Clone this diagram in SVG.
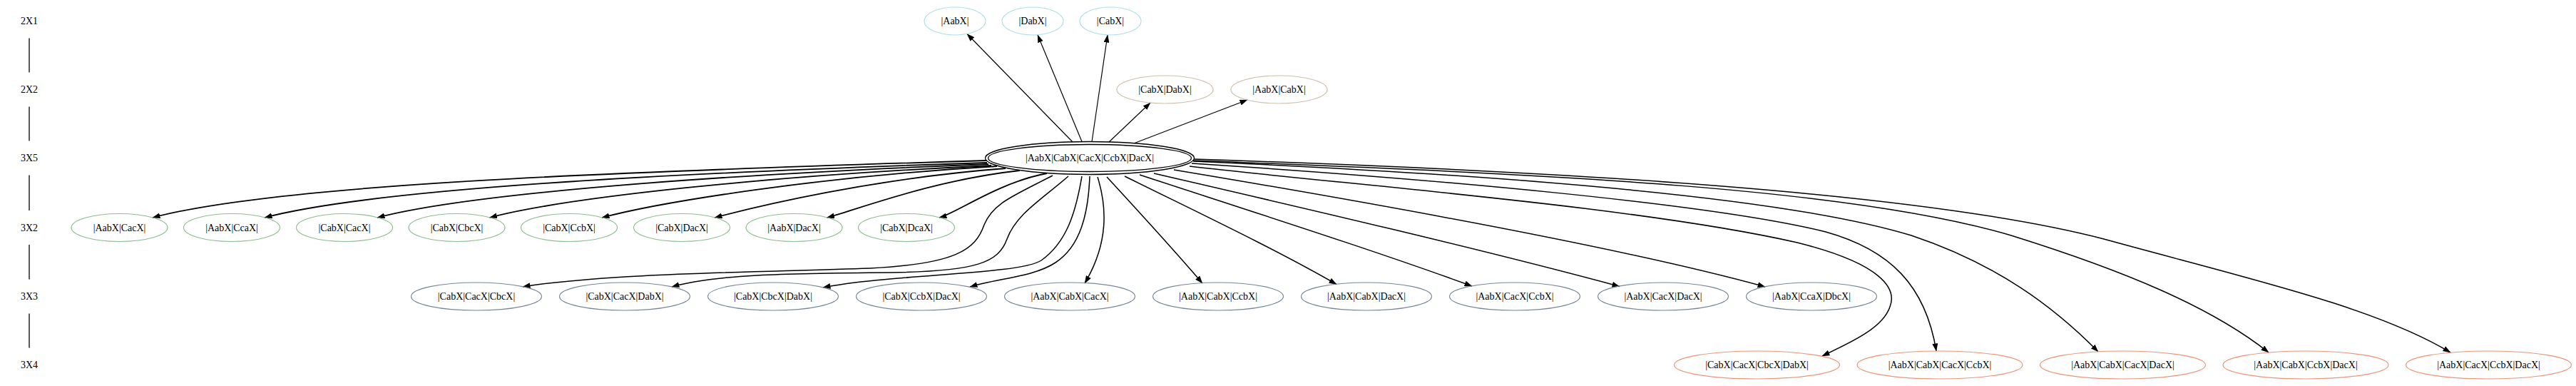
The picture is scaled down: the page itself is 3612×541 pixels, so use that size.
<svg xmlns="http://www.w3.org/2000/svg" width="3612" height="541" viewBox="0 0 3612 541">
<defs>
<marker id="ah" viewBox="0 0 11 8" refX="10.5" refY="4" markerWidth="11" markerHeight="8" markerUnits="userSpaceOnUse" orient="auto">
<path d="M0,0 L11,4 L0,8 z" fill="#000"/>
</marker>
<style>
text{font-family:"Liberation Serif","Times New Roman",serif;font-size:14px;fill:#000;text-anchor:middle}
ellipse{fill:none;stroke-width:1.2}
.c1{stroke:#b0e0e6}
.c2{stroke:#cdc0b0}
.c3{stroke:#8fbc8f}
.c4{stroke:#778899}
.c5{stroke:#e9967a}
.main{stroke:#000;stroke-width:1.3}
.rl{stroke:#000;stroke-width:1.3;fill:none}
.e{stroke:#000;fill:none;stroke-width:1.5;marker-end:url(#ah)}
.eu{stroke-width:1.2}
.eg{stroke-width:1.8}
</style>
</defs>
<rect width="3612" height="541" fill="#fff"/>

<g id="rank-labels">
<text x="41" y="34">2X1</text>
<text x="41" y="130">2X2</text>
<text x="41" y="226">3X5</text>
<text x="41" y="323.5">3X2</text>
<text x="41" y="420">3X3</text>
<text x="41" y="516">3X4</text>
<path class="rl" d="M41,53.5 L41,101.5 M41,149.5 L41,197.5 M41,245.5 L41,295 M41,343 L41,391.5 M41,439.5 L41,487.5"/>
</g>

<g id="edges">
<path class="e eu" d="M1504,199 L1356,47.5"/>
<path class="e eu" d="M1517,198.5 L1455,49"/>
<path class="e eu" d="M1531,198.5 L1553,49"/>
<path class="e eu" d="M1555,199 L1613,144"/>
<path class="e eu" d="M1591,200.5 L1749,140"/>

<path class="e eg" d="M1383,225 C857,241 389,258 214,305"/>
<path class="e eg" d="M1384,228 C929,243 524,264.5 371,305"/>
<path class="e eg" d="M1386,230 C1001,245 658,271 529,305"/>
<path class="e eg" d="M1390,232 C1074,246.6 792,277 686.5,305"/>
<path class="e eg" d="M1398,233 C1149,247.4 927,283 844,305"/>
<path class="e eg" d="M1410,236 C1226,249.8 1063,289 1002,305"/>
<path class="e eg" d="M1430,239 C1308.5,252.2 1200.5,294.2 1159.5,305"/>
<path class="e eg" d="M1468,243 C1400.5,255.4 1340.5,299 1317,305"/>

<path class="e" d="M1476,246 C1420,275 1392,285 1380,315 C1368,350 1340,370 1220,376 C1050,382 850,383 733,402"/>
<path class="e" d="M1498,247 C1460,280 1425,300 1412,335 C1400,368 1370,380 1250,382 C1100,383 1000,385 942,402"/>
<path class="e" d="M1517,247 C1508,300 1495,340 1460,365 C1430,385 1250,384 1154,403"/>
<path class="e" d="M1528,247 C1526,300 1515,345 1480,368 C1450,388 1400,390 1360,402"/>
<path class="e" d="M1539,248 C1552,290 1555,340 1521,397"/>
<path class="e" d="M1552,248 C1600,300 1650,355 1686,397"/>
<path class="e" d="M1577,247 C1680,298 1790,350 1874,398.5"/>
<path class="e" d="M1598,245 C1760,298 1930,352 2064,401"/>
<path class="e" d="M1618,243 C1830,292 2080,350 2271,401.5"/>
<path class="e" d="M1646,238 C1850,272 2250,340 2475,402"/>

<path class="e" d="M1668,233 C1900,260 2300,290 2520,340 C2640,370 2660,405 2650,430 C2640,460 2595,480 2555,499"/>
<path class="e" d="M1671,229 C2000,250 2400,285 2560,325 C2650,350 2700,400 2715,492"/>
<path class="e" d="M1673,226 C2100,245 2500,275 2680,330 C2800,370 2880,430 2942,493"/>
<path class="e" d="M1673,225 C2200,245 2600,265 2820,330 C2980,380 3100,430 3181,494"/>
<path class="e" d="M1674,223 C2200,240 2700,270 2950,335 C3150,390 3330,430 3436,494"/>
</g>

<g id="n-AabX"><ellipse class="c1" cx="1339" cy="29.5" rx="43" ry="19.5"/><text x="1339" y="34">|AabX|</text></g>
<g id="n-DabX"><ellipse class="c1" cx="1448" cy="29.5" rx="43" ry="19.5"/><text x="1448" y="34">|DabX|</text></g>
<g id="n-CabX"><ellipse class="c1" cx="1557" cy="29.5" rx="43" ry="19.5"/><text x="1557" y="34">|CabX|</text></g>

<g id="n-CabX-DabX"><ellipse class="c2" cx="1633.5" cy="125.5" rx="67.5" ry="19.5"/><text x="1633.5" y="130">|CabX|DabX|</text></g>
<g id="n-AabX-CabX"><ellipse class="c2" cx="1793.5" cy="125.5" rx="67.5" ry="19.5"/><text x="1793.5" y="130">|AabX|CabX|</text></g>

<g id="n-main"><ellipse class="main" cx="1528" cy="221.5" rx="146.5" ry="23"/><ellipse class="main" cx="1528" cy="221.5" rx="142.5" ry="19"/><text x="1528" y="226">|AabX|CabX|CacX|CcbX|DacX|</text></g>

<g id="n-AabX-CacX"><ellipse class="c3" cx="167.5" cy="319" rx="67.5" ry="19.5"/><text x="167.5" y="323.5">|AabX|CacX|</text></g>
<g id="n-AabX-CcaX"><ellipse class="c3" cx="325" cy="319" rx="67.5" ry="19.5"/><text x="325" y="323.5">|AabX|CcaX|</text></g>
<g id="n-CabX-CacX"><ellipse class="c3" cx="483" cy="319" rx="67.5" ry="19.5"/><text x="483" y="323.5">|CabX|CacX|</text></g>
<g id="n-CabX-CbcX"><ellipse class="c3" cx="640.5" cy="319" rx="67.5" ry="19.5"/><text x="640.5" y="323.5">|CabX|CbcX|</text></g>
<g id="n-CabX-CcbX"><ellipse class="c3" cx="798" cy="319" rx="67.5" ry="19.5"/><text x="798" y="323.5">|CabX|CcbX|</text></g>
<g id="n-CabX-DacX"><ellipse class="c3" cx="956" cy="319" rx="67.5" ry="19.5"/><text x="956" y="323.5">|CabX|DacX|</text></g>
<g id="n-AabX-DacX"><ellipse class="c3" cx="1113.5" cy="319" rx="67.5" ry="19.5"/><text x="1113.5" y="323.5">|AabX|DacX|</text></g>
<g id="n-CabX-DcaX"><ellipse class="c3" cx="1271" cy="319" rx="67.5" ry="19.5"/><text x="1271" y="323.5">|CabX|DcaX|</text></g>

<g id="n-CabX-CacX-CbcX"><ellipse class="c4" cx="668" cy="415.5" rx="91.5" ry="19.5"/><text x="668" y="420">|CabX|CacX|CbcX|</text></g>
<g id="n-CabX-CacX-DabX"><ellipse class="c4" cx="876" cy="415.5" rx="91.5" ry="19.5"/><text x="876" y="420">|CabX|CacX|DabX|</text></g>
<g id="n-CabX-CbcX-DabX"><ellipse class="c4" cx="1084" cy="415.5" rx="91.5" ry="19.5"/><text x="1084" y="420">|CabX|CbcX|DabX|</text></g>
<g id="n-CabX-CcbX-DacX"><ellipse class="c4" cx="1292" cy="415.5" rx="91.5" ry="19.5"/><text x="1292" y="420">|CabX|CcbX|DacX|</text></g>
<g id="n-AabX-CabX-CacX"><ellipse class="c4" cx="1500" cy="415.5" rx="91.5" ry="19.5"/><text x="1500" y="420">|AabX|CabX|CacX|</text></g>
<g id="n-AabX-CabX-CcbX"><ellipse class="c4" cx="1708" cy="415.5" rx="91.5" ry="19.5"/><text x="1708" y="420">|AabX|CabX|CcbX|</text></g>
<g id="n-AabX-CabX-DacX"><ellipse class="c4" cx="1916" cy="415.5" rx="91.5" ry="19.5"/><text x="1916" y="420">|AabX|CabX|DacX|</text></g>
<g id="n-AabX-CacX-CcbX"><ellipse class="c4" cx="2124" cy="415.5" rx="91.5" ry="19.5"/><text x="2124" y="420">|AabX|CacX|CcbX|</text></g>
<g id="n-AabX-CacX-DacX"><ellipse class="c4" cx="2332" cy="415.5" rx="91.5" ry="19.5"/><text x="2332" y="420">|AabX|CacX|DacX|</text></g>
<g id="n-AabX-CcaX-DbcX"><ellipse class="c4" cx="2540" cy="415.5" rx="91.5" ry="19.5"/><text x="2540" y="420">|AabX|CcaX|DbcX|</text></g>

<g id="n-CabX-CacX-CbcX-DabX"><ellipse class="c5" cx="2463.5" cy="511.5" rx="116" ry="19.5"/><text x="2463.5" y="516">|CabX|CacX|CbcX|DabX|</text></g>
<g id="n-AabX-CabX-CacX-CcbX"><ellipse class="c5" cx="2720" cy="511.5" rx="116" ry="19.5"/><text x="2720" y="516">|AabX|CabX|CacX|CcbX|</text></g>
<g id="n-AabX-CabX-CacX-DacX"><ellipse class="c5" cx="2976.5" cy="511.5" rx="116" ry="19.5"/><text x="2976.5" y="516">|AabX|CabX|CacX|DacX|</text></g>
<g id="n-AabX-CabX-CcbX-DacX"><ellipse class="c5" cx="3233" cy="511.5" rx="116" ry="19.5"/><text x="3233" y="516">|AabX|CabX|CcbX|DacX|</text></g>
<g id="n-AabX-CacX-CcbX-DacX"><ellipse class="c5" cx="3489.5" cy="511.5" rx="116" ry="19.5"/><text x="3489.5" y="516">|AabX|CacX|CcbX|DacX|</text></g>
</svg>
